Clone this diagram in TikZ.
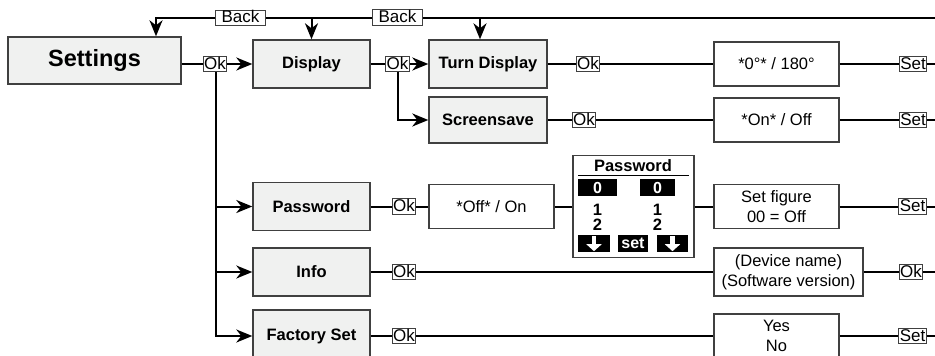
\documentclass[tikz,border=0pt]{standalone}
\usepackage{fontspec}
\setmainfont{Liberation Sans}
\usetikzlibrary{arrows.meta,positioning}
\definecolor{menugray}{HTML}{F0F1F0}
\definecolor{edgegray}{HTML}{404040}

\begin{document}
\begin{tikzpicture}[x=1pt,y=-1pt,
	menu/.style={draw=edgegray, line width=1.4pt, fill=menugray, minimum width=117pt,
		minimum height=48pt, inner sep=0pt, font=\fontsize{16.5}{20}\selectfont\bfseries},
	choice/.style={draw=edgegray, line width=1.2pt, fill=white, minimum width=125pt,
		minimum height=44pt, inner sep=0pt, align=center, font=\fontsize{16.5}{20}\selectfont},
	key/.style={draw=edgegray, line width=0.8pt, fill=white, inner xsep=1pt, inner ysep=0.3pt,
		text height=12.5pt, text depth=2.5pt, font=\fontsize{17}{17}\selectfont},
	link/.style={line width=2pt},
	go/.style={link, -{Stealth[length=16pt,width=13pt,inset=5pt]}},
	pad/.style={fill=black, text=white, inner sep=0pt, minimum height=17pt,
		font=\fontsize{16}{16}\selectfont\bfseries}]
	\useasboundingbox (0,0) rectangle (935,356);
	\clip (0,0) rectangle (935,356);

	% menu entries
	\node[menu, minimum width=173pt, minimum height=47pt, font=\fontsize{23.5}{23.5}\selectfont\bfseries]
		(settings) at (94.5,60.5) {Settings};
	\node[menu] (display) at (311.5,64) {Display};
	\node[menu, minimum width=118pt] (turn) at (488,64) {Turn Display};
	\node[menu, minimum width=118pt, minimum height=46pt] (screen) at (488,120) {Screensave};
	\node[menu] (password) at (311.5,206.5) {Password};
	\node[menu] (info) at (311.5,272) {Info};
	\node[menu, minimum height=52pt] (factory) at (311.5,336) {Factory Set};

	% choices
	\node[choice] (angle) at (776.5,64) {*0°* / 180°};
	\node[choice] (saver) at (776.5,120) {*On* / Off};
	\node[choice] (pwdset) at (491.5,206.5) {*Off* / On};
	\node[choice] (figure) at (776.5,206.5) {Set figure\\00 = Off};
	\node[choice, minimum width=149pt, minimum height=48pt] (device) at (788.5,272) {(Device name)\\(Software version)};
	\node[choice, minimum height=44pt] (reset) at (776.5,336) {Yes\\No};

	% password screen
	\node[draw=edgegray, line width=1.4pt, fill=white, minimum width=121pt, minimum height=102pt,
		inner sep=0pt] (pwdscreen) at (633.5,206.5) {};
	\node[font=\fontsize{16.5}{16.5}\selectfont\bfseries] (pwdtitle) at (633,166) {Password};
	\draw[line width=1pt] (578,175) -- (689,175);
	\node[pad, minimum width=39pt] (digitA) at (597.5,187.5) {0};
	\node[pad, minimum width=35pt] (digitB) at (657.5,187.5) {0};
	\node[align=center, inner sep=0pt, font=\fontsize{16.5}{15}\selectfont\bfseries] (rowA) at (597.5,217) {1\\2};
	\node[align=center, inner sep=0pt, font=\fontsize{16.5}{15}\selectfont\bfseries] (rowB) at (657.5,217) {1\\2};
	\node[pad, minimum width=32pt] (downA) at (594,243.5) {};
	\node[pad, minimum width=30pt] (setkey) at (633,243.5) {set};
	\node[pad, minimum width=31pt] (downB) at (672.5,243.5) {};
	\draw[white, line width=4.5pt, -{Triangle[length=7pt,width=15pt]}] ([yshift=-1.5pt]downA.north) -- ([yshift=1pt]downA.south);
	\draw[white, line width=4.5pt, -{Triangle[length=7pt,width=15pt]}] ([yshift=-1.5pt]downB.north) -- ([yshift=1pt]downB.south);

	% back line
	\coordinate (endT) at (935,17.5);
	\node[key, inner xsep=6pt] (backA) at (240.5,18) {Back};
	\node[key, inner xsep=6pt] (backB) at (397.5,17.5) {Back};
	\draw[link] (endT) -- (backB.east |- endT);
	\draw[link] (backB.west |- endT) -- (backA.east |- endT);
	\draw[go] (backA.west |- endT) -| ([xshift=61.5pt]settings.north);
	\draw[go] (display.north |- endT) -- (display.north);
	\draw[go] ([xshift=-8pt]turn.north |- endT) -- ([xshift=-8pt]turn.north);

	% settings -> submenus
	\node[key] (okA) at (215,64) {Ok};
	\draw[link] (settings.east |- okA) -- (okA.west);
	\draw[go] (okA.east) -- (display.west);
	\draw[go] ([xshift=1pt]okA.south) |- (factory.west);
	\draw[go] ([xshift=1pt]okA.south |- password.west) -- (password.west);
	\draw[go] ([xshift=1pt]okA.south |- info.west) -- (info.west);

	% display -> submenus
	\node[key] (okB) at (397.5,64) {Ok};
	\draw[link] (display.east) -- (okB.west);
	\draw[go] (okB.east) -- (turn.west);
	\draw[go] (okB.south) |- (screen.west);

	% rows to the right
	\node[key] (okC) at (588,64) {Ok};
	\node[key] (setA) at (913,64) {Set};
	\coordinate (endA) at (935,64);
	\draw[link] (turn) -- (okC) -- (angle) -- (setA) -- (endA);

	\node[key] (okD) at (584,120) {Ok};
	\node[key] (setB) at (913,120) {Set};
	\coordinate (endB) at (935,120);
	\draw[link] (screen) -- (okD) -- (saver) -- (setB) -- (endB);

	\node[key] (okE) at (404,206.5) {Ok};
	\node[key] (setC) at (912.5,206.5) {Set};
	\coordinate (endC) at (935,206.5);
	\draw[link] (password) -- (okE) -- (pwdset) -- (pwdscreen) -- (figure) -- (setC) -- (endC);

	\node[key] (okF) at (404,272) {Ok};
	\node[key] (okG) at (911,272) {Ok};
	\coordinate (endD) at (935,272);
	\draw[link] (info) -- (okF) -- (device) -- (okG) -- (endD);

	\node[key] (okH) at (404,336) {Ok};
	\node[key] (setE) at (912.5,336) {Set};
	\coordinate (endE) at (935,336);
	\draw[link] (factory) -- (okH) -- (reset) -- (setE) -- (endE);
\end{tikzpicture}
\end{document}
